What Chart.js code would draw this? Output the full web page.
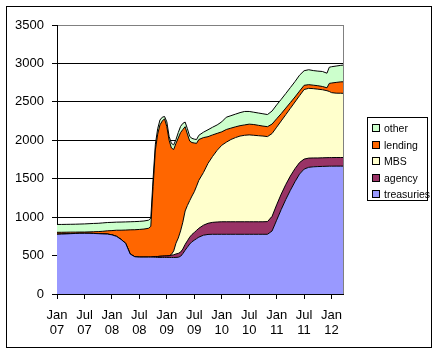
<!DOCTYPE html>
<html>
<head>
<meta charset="utf-8">
<script src="https://cdn.jsdelivr.net/npm/chart.js@4/dist/chart.umd.min.js"></script>
<style>
  html, body { margin: 0; padding: 0; background: #fff; }
  #wrap { position: relative; width: 438px; height: 354px; }
  #legend {
    position: absolute; left: 367px; top: 117px; width: 59px; height: 82px;
    border: 1px solid #000; background: #fff;
    font: 10.5px "Liberation Sans", Arial, sans-serif; color: #000;
  }
  #legend .item { position: absolute; left: 4px; height: 14px; line-height: 14px; white-space: nowrap; }
  #legend .box { display: inline-block; width: 6px; height: 6px; border: 1px solid #000; margin-right: 4px; vertical-align: 0px; }
</style>
</head>
<body>
<div id="wrap">
  <canvas id="chart" width="438" height="354"></canvas>
  <div id="legend"></div>
</div>
<script>
// months since Jan 2007 (denser through the late-2008 / 2009 swings)
const months = [0,1,2,3,4,5,6,7,8,9,10,11,12,13,14,15,16,17,18,19,20,
  20.5,21,21.5,22,22.5,23,23.5,24,24.5,25,25.5,26,26.5,27,27.5,28,28.5,29,29.5,30,30.5,31,
  32,33,34,35,36,37,38,39,40,41,42,43,44,45,46,47,48,49,50,51,52,53,54,55,56,57,58,59,
  59.5,60,61,62,62.5];

// $ billions
const treasuries = [778,780,782,785,788,790,790,790,788,785,782,780,770,750,710,660,520,485,480,480,480,
  480,480,478,476,476,476,476,476,476,475,475,476,478,490,525,570,610,650,680,700,720,740,
  765,775,777,777,777,777,777,777,777,777,777,777,777,777,777,820,960,1100,1230,1350,1460,1560,1625,1648,1655,1658,1660,1662,
  1663,1663,1664,1664,1664];
const agency = [0,0,0,0,0,0,0,0,0,0,0,0,0,0,0,0,0,0,0,0,0,
  0,5,10,12,15,17,19,20,22,30,35,45,50,55,60,75,82,90,95,100,108,115,
  130,145,155,160,163,163,163,163,163,163,163,163,163,163,165,190,200,200,195,185,170,150,130,120,115,112,112,112,
  112,112,112,112,112];
const mbs = [0,0,0,0,0,0,0,0,0,0,0,0,0,0,0,0,0,0,0,0,0,
  0,0,0,0,0,0,0,0,0,10,50,140,200,275,350,435,460,475,500,530,575,625,
  685,780,858,933,995,1035,1070,1095,1115,1125,1130,1125,1120,1115,1106,1078,1010,952,909,881,868,870,905,908,902,895,886,871,
  860,845,837,836,835];
const lending = [25,23,22,20,17,16,16,18,22,27,34,42,55,80,120,172,315,351,360,365,375,
  400,915,1387,1592,1709,1757,1785,1681,1502,1385,1320,1299,1302,1280,1205,1097,928,775,695,635,557,530,
  455,347,280,220,175,165,148,140,135,135,140,140,135,130,129,123,110,95,85,75,65,60,55,48,45,45,42,38,
  105,125,140,148,150];
const other = [102,102,102,102,103,104,106,107,108,108,109,108,107,105,106,106,105,106,105,105,105,
  105,100,75,70,64,50,30,63,50,60,60,50,70,80,80,60,70,60,55,50,50,55,
  70,90,100,110,130,160,162,165,170,175,165,160,160,160,158,170,180,186,190,195,200,207,190,194,190,190,195,190,
  210,212,213,215,217];

const tickMonths = [0,6,12,18,24,30,36,42,48,54,60];
const xTickLabels = [["Jan","07"],["Jul","07"],["Jan","08"],["Jul","08"],["Jan","09"],["Jul","09"],
  ["Jan","10"],["Jul","10"],["Jan","11"],["Jul","11"],["Jan","12"]];

const seriesNames = ["treasuries", "agency", "MBS", "lending", "other"];
const seriesValues = [treasuries, agency, mbs, lending, other];
const seriesColors = ["#9999FF", "#993366", "#FFFFCC", "#FF6600", "#CCFFCC"];

const font = { family: '"Liberation Sans", Arial, sans-serif', size: 13, lineHeight: 1.15 };

const datasets = seriesNames.map((name, i) => ({
  label: name,
  data: months.map((m, j) => ({ x: m, y: seriesValues[i][j] })),
  backgroundColor: seriesColors[i],
  borderColor: "#000",
  borderWidth: 1,
  pointRadius: 0,
  tension: 0,
  fill: i === 0 ? "origin" : "-1"
}));

// white page, outer frame and grey right edge of the plot area
const framePlugin = {
  id: "frame",
  beforeDraw(chart) {
    const c = chart.ctx;
    c.save();
    c.fillStyle = "#fff";
    c.fillRect(0, 0, chart.width, chart.height);
    c.strokeStyle = "#000";
    c.lineWidth = 1;
    c.strokeRect(6.5, 6.5, 425, 341);
    c.restore();
  },
  afterDraw(chart) {
    const a = chart.chartArea;
    const c = chart.ctx;
    c.save();
    c.strokeStyle = "#808080";
    c.lineWidth = 1;
    c.beginPath();
    c.moveTo(Math.round(a.right) + 0.5, a.top);
    c.lineTo(Math.round(a.right) + 0.5, a.bottom);
    c.stroke();
    c.restore();
  }
};

const chart = new Chart(document.getElementById("chart"), {
  type: "line",
  data: { datasets },
  options: {
    responsive: false,
    animation: false,
    layout: { padding: { left: 0, top: 25, right: 95, bottom: 0 } },
    plugins: { legend: { display: false }, tooltip: { enabled: false } },
    scales: {
      x: {
        type: "linear",
        min: 0,
        max: 62.5,
        afterBuildTicks: s => { s.ticks = tickMonths.map(v => ({ value: v })); },
        afterFit: s => { s.height = 60; },
        grid: { drawOnChartArea: false, tickLength: 5, tickColor: "#000" },
        border: { color: "#000" },
        ticks: {
          color: "#000", font, padding: 9, maxRotation: 0, autoSkip: false,
          callback: (v, i) => xTickLabels[i]
        }
      },
      y: {
        stacked: true,
        min: 0,
        max: 3500,
        afterFit: s => { s.width = 57; },
        grid: {
          color: ctx => (ctx.tick && ctx.tick.value === 3500 ? "#808080" : "#000"),
          tickColor: "#000",
          tickLength: 5
        },
        border: { color: "#000" },
        ticks: { stepSize: 500, color: "#000", font, padding: 8, callback: v => String(v) }
      }
    }
  },
  plugins: [framePlugin]
});

// legend box, listed top-down like the original (reverse of stacking)
const legend = document.getElementById("legend");
chart.data.datasets.slice().reverse().forEach((ds, i) => {
  const item = document.createElement("div");
  item.className = "item";
  item.style.top = (3 + i * 16.6) + "px";
  item.innerHTML = '<span class="box" style="background:' + ds.backgroundColor + '"></span>' + ds.label;
  legend.appendChild(item);
});
</script>
</body>
</html>
